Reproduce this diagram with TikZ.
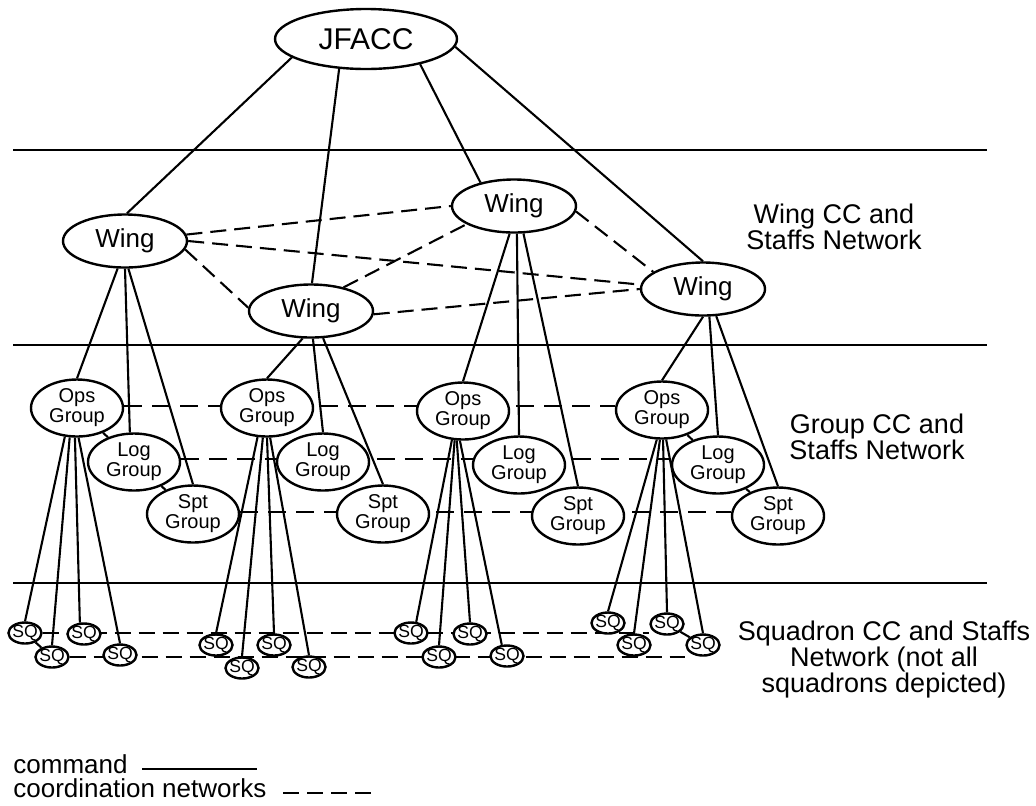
\documentclass[tikz,border=0pt]{standalone}
\usepackage{fontspec}
\setmainfont{Liberation Sans}
\usetikzlibrary{shapes.geometric,backgrounds}
\begin{document}
\begin{tikzpicture}[x=0.5pt,y=-0.5pt,
  lw/.style={line width=1.05pt},
  box/.style={ellipse,draw,line width=1.2pt,fill=white,inner sep=0pt},
  topbox/.style={box,minimum width=91pt,minimum height=30pt,font=\fontsize{15}{17}\selectfont},
  wingbox/.style={box,minimum width=62pt,minimum height=26.5pt,font=\fontsize{13}{15}\selectfont},
  grpbox/.style={box,minimum width=46pt,minimum height=28.5pt,align=center,font=\fontsize{10}{10}\selectfont},
  sqbox/.style={box,inner sep=-1.2pt,minimum width=16.5pt,minimum height=10.5pt,font=\fontsize{8.8}{9}\selectfont},
  cmd/.style={lw},
  coord/.style={lw,dash pattern=on 8pt off 4pt},
  coordlong/.style={lw,dash pattern=on 9pt off 5pt},
  lbl/.style={align=center,font=\fontsize{13.5}{13}\selectfont},
  leg/.style={anchor=base west,font=\fontsize{13}{12}\selectfont,inner sep=0pt},
]
\useasboundingbox (0,0) rectangle (1036,805);

% separators
\draw[lw] (13,150) -- (987,150);
\draw[lw] (13,345) -- (987,345);
\draw[lw] (13,583) -- (987,583);

% nodes
\node[topbox] (jfacc) at (366,39) {JFACC};
\node[wingbox] (w1) at (125,241) {Wing};
\node[wingbox] (w2) at (311,311) {Wing};
\node[wingbox] (w3) at (514,206) {Wing};
\node[wingbox] (w4) at (703,289) {Wing};

\node[grpbox] (ops1) at (77,408) {Ops\\Group};
\node[grpbox] (log1) at (134,462) {Log\\Group};
\node[grpbox] (spt1) at (193,514) {Spt\\Group};
\node[grpbox] (ops2) at (267,408) {Ops\\Group};
\node[grpbox] (log2) at (323,462) {Log\\Group};
\node[grpbox] (spt2) at (383,514) {Spt\\Group};
\node[grpbox] (ops3) at (463,411) {Ops\\Group};
\node[grpbox] (log3) at (519,465) {Log\\Group};
\node[grpbox] (spt3) at (578,516) {Spt\\Group};
\node[grpbox] (ops4) at (662,410) {Ops\\Group};
\node[grpbox] (log4) at (718,465) {Log\\Group};
\node[grpbox] (spt4) at (778,516) {Spt\\Group};

\node[sqbox] (sq1a) at (25,633) {SQ};
\node[sqbox] (sq1b) at (52,657) {SQ};
\node[sqbox] (sq1c) at (84,634) {SQ};
\node[sqbox] (sq1d) at (120,655) {SQ};
\node[sqbox] (sq2a) at (216,645) {SQ};
\node[sqbox] (sq2b) at (242,668) {SQ};
\node[sqbox] (sq2c) at (274,645) {SQ};
\node[sqbox] (sq2d) at (309,667) {SQ};
\node[sqbox] (sq3a) at (411,633) {SQ};
\node[sqbox] (sq3b) at (439,657) {SQ};
\node[sqbox] (sq3c) at (470,634) {SQ};
\node[sqbox] (sq3d) at (507,656) {SQ};
\node[sqbox] (sq4a) at (608,623) {SQ};
\node[sqbox] (sq4b) at (634,645) {SQ};
\node[sqbox] (sq4c) at (667,624) {SQ};
\node[sqbox] (sq4d) at (703,645) {SQ};

% labels
\node[lbl] (lblwing) at (834,227) {Wing CC and\\Staffs Network};
\node[lbl] (lblgrp) at (877,437) {Group CC and\\Staffs Network};
\node[lbl] (lblsq) at (884,659) {Squadron CC and Staffs\\Network (not all\\squadrons depicted)};

% legend
\node[leg] (legcmd) at (13,773) {command};
\node[leg] (legcoord) at (13,797) {coordination networks};
\coordinate (lc1) at (142,769);
\coordinate (lc2) at (257,769);
\coordinate (ld1) at (283,793);
\coordinate (ld2) at (372,793);
\draw[cmd] (lc1) -- (lc2);
\draw[coord] (ld1) -- (ld2);

\begin{pgfonlayer}{background}
% JFACC to wings
\draw[cmd] (jfacc.194) -- (w1.86);
\draw[cmd] (jfacc.228) -- (w2.88);
\draw[cmd] (jfacc.335) -- (w3.145);
\draw[cmd] (jfacc.355) -- (w4.90);
% wing coordination
\draw[coord] (w1.6) -- (w3.180);
\draw[coord] (w1.0) -- (w4.176);
\draw[coord] (w1.352) -- (w2.177);
\draw[coord] (w2.357) -- (w4.180);
\draw[coord] (w2.36) -- (w3.201);
\draw[coord] (w3.355) -- (w4.161);
% wings to groups
\draw[cmd] (w1.255) -- (ops1.north);
\draw[cmd] (w1.270) -- (log1.98);
\draw[cmd] (w1.277) -- (spt1.north);
\draw[cmd] (w2.253) -- (ops2.north);
\draw[cmd] (w2.274) -- (log2.north);
\draw[cmd] (w2.294) -- (spt2.north);
\draw[cmd] (w3.261) -- (ops3.north);
\draw[cmd] (w3.276) -- (log3.north);
\draw[cmd] (w3.289) -- (spt3.north);
\draw[cmd] (w4.270) -- (ops4.north);
\draw[cmd] (w4.283) -- (log4.north);
\draw[cmd] (w4.296) -- (spt4.north);
% group coordination rows
\draw[coordlong] (ops1.3) -- (ops1.3 -| ops4.west);
\draw[coordlong] (log1.4) -- (log1.4 -| log4.west);
\draw[coordlong] (spt1.3) -- (spt1.3 -| spt4.west);
\draw[cmd] (ops1) -- (log1);
\draw[cmd] (log1) -- (spt1);
\draw[cmd] (ops4) -- (log4);
\draw[cmd] (log4) -- (spt4);
% ops to squadrons
\draw[cmd] (ops1.247) -- (sq1a.north);
\draw[cmd] (ops1.256) -- (sq1b.north);
\draw[cmd] (ops1.266) -- (sq1c.110);
\draw[cmd] (ops1.273) -- (sq1d.north);
\draw[cmd] (ops2.252) -- (sq2a.north);
\draw[cmd] (ops2.262) -- (sq2b.north);
\draw[cmd] (ops2.270) -- (sq2c.north);
\draw[cmd] (ops2.276) -- (sq2d.north);
\draw[cmd] (ops3.249) -- (sq3a.65);
\draw[cmd] (ops3.254) -- (sq3b.north);
\draw[cmd] (ops3.258) -- (sq3c.north);
\draw[cmd] (ops3.264) -- (sq3d.115);
\draw[cmd] (ops4.260) -- (sq4a.north);
\draw[cmd] (ops4.266) -- (sq4b.north);
\draw[cmd] (ops4.272) -- (sq4c.north);
\draw[cmd] (ops4.278) -- (sq4d.north);
% squadron coordination rows
\draw[coord] (sq1a.east) -- (sq1a.east -| sq4c.west);
\draw[coord] (sq1b.east) -- (sq1b.east -| sq4d.west);
\draw[cmd] (sq1a) -- (sq1b);
\draw[cmd] (sq4c) -- (sq4d);
\end{pgfonlayer}
\end{tikzpicture}
\end{document}
